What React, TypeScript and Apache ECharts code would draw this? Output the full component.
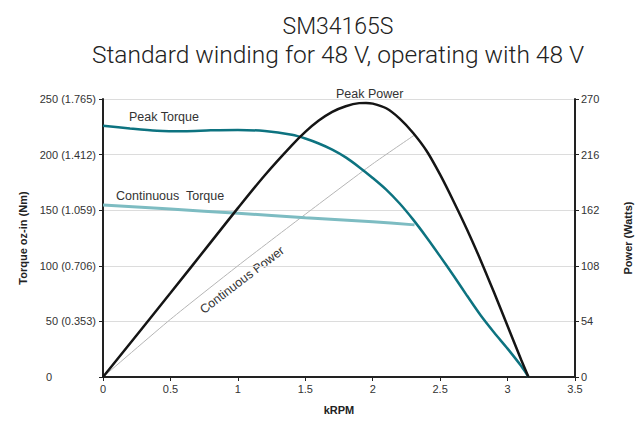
import React, { useEffect, useRef } from "react";
import * as echarts from "echarts";

const titleText = "SM34165S";
const subtitleText = "Standard winding for 48 V, operating with 48 V";

const xTicks = { min: 0, max: 3.5, interval: 0.5 };
const leftTickLabels = ["0", "50 (0.353)", "100 (0.706)", "150 (1.059)", "200 (1.412)", "250 (1.765)"];
const rightTicks = { min: 0, max: 270, interval: 54 };

// [kRPM, oz-in]
const peakTorque: [number, number][] = [
  [0, 226], [0.2, 223.5], [0.4, 221.5], [0.6, 221], [0.8, 221.8], [1.0, 222.2], [1.2, 221.2],
  [1.4, 217.8], [1.5, 214.5], [1.6, 210], [1.7, 204.5], [1.8, 197.5], [1.9, 188.7], [2.0, 179],
  [2.1, 168.5], [2.2, 156], [2.3, 141.5], [2.4, 125.5], [2.5, 108.5], [2.6, 91], [2.7, 73],
  [2.8, 55.5], [2.9, 40], [3.0, 25.5], [3.1, 10], [3.155, 0],
];
// [kRPM, oz-in]
const continuousTorque: [number, number][] = [
  [0, 154.7], [0.5, 151], [1.0, 147.2], [1.5, 143.3], [2.0, 139.6], [2.31, 136.8],
];
// [kRPM, W]
const peakPower: [number, number][] = [
  [0, 0], [0.5, 81.5], [0.8, 131], [1.0, 164], [1.2, 196], [1.4, 225], [1.5, 238], [1.6, 249],
  [1.7, 257.5], [1.8, 263], [1.9, 266], [1.95, 266.2], [2.0, 265.5], [2.1, 261], [2.2, 251],
  [2.3, 237], [2.4, 219.5], [2.5, 196.5], [2.6, 170.5], [2.7, 143], [2.8, 113.5], [2.9, 82],
  [3.0, 49.5], [3.1, 17], [3.155, 0],
];
// [kRPM, W]
const continuousPower: [number, number][] = [
  [0, 0], [0.5, 56], [1.0, 108], [1.5, 158], [2.0, 207], [2.31, 235],
];

const seriesNames = ["Peak Torque", "Continuous  Torque", "Peak Power", "Continuous Power"];

export default function App() {
  const ref = useRef<HTMLDivElement>(null);
  useEffect(() => {
    document.body.style.margin = "0";
    if (!ref.current) return;
    const chart = echarts.init(ref.current, undefined, { renderer: "svg" });
    const labelFont = { fontFamily: "Liberation Sans, Arial, sans-serif", fontSize: 11, color: "#333" };
    const nameFont = { fontFamily: "Liberation Sans, Arial, sans-serif", fontSize: 11, fontWeight: "bold" as const, color: "#222" };
    const seriesLabelStyle = { fontFamily: "Liberation Sans, Arial, sans-serif", fontSize: 12.5, fill: "#333" };
    chart.setOption({
      animation: false,
      backgroundColor: "#fff",
      title: {
        text: titleText,
        subtext: subtitleText,
        left: 333,
        textAlign: "center",
        top: 6,
        itemGap: 0,
        textStyle: { fontFamily: "Roboto", fontWeight: 300, fontSize: 23, color: "#222", lineHeight: 30 },
        subtextStyle: { fontFamily: "Roboto", fontWeight: 300, fontSize: 24.5, color: "#222", lineHeight: 27 },
      },
      grid: { left: 103, right: 58, top: 99, bottom: 46, containLabel: false },
      xAxis: {
        type: "value",
        min: xTicks.min,
        max: xTicks.max,
        interval: xTicks.interval,
        name: "kRPM",
        nameLocation: "middle",
        nameGap: 27,
        nameTextStyle: nameFont,
        axisLine: { show: true, lineStyle: { color: "#222", width: 2 } },
        axisTick: { show: true, length: 4, lineStyle: { color: "#222" } },
        axisLabel: { ...labelFont, margin: 6 },
        splitLine: { show: false },
      },
      yAxis: [
        {
          type: "value",
          min: 0,
          max: 250,
          interval: 50,
          name: "Torque oz-in (Nm)",
          nameLocation: "middle",
          nameRotate: 90,
          nameGap: 75,
          nameTextStyle: nameFont,
          axisLine: { show: true, lineStyle: { color: "#222", width: 2 } },
          axisTick: { show: true, length: 4, lineStyle: { color: "#222" } },
          axisLabel: {
            ...labelFont,
            margin: 7,
            formatter: (v: number) => {
              const i = Math.round(v / 50);
              return i === 0 ? "{zero|" + leftTickLabels[0] + "}" : leftTickLabels[i] ?? "";
            },
            rich: { zero: { ...labelFont, padding: [0, 44, 0, 0] } },
          },
          splitLine: { show: true, lineStyle: { color: "#dcdcdc", width: 1 } },
        },
        {
          type: "value",
          position: "right",
          min: rightTicks.min,
          max: rightTicks.max,
          interval: rightTicks.interval,
          name: "Power (Watts)",
          nameLocation: "middle",
          nameRotate: 90,
          nameGap: 47,
          nameTextStyle: nameFont,
          axisLine: { show: true, lineStyle: { color: "#222", width: 2 } },
          axisTick: { show: true, length: 4, lineStyle: { color: "#222" } },
          axisLabel: { ...labelFont, margin: 6 },
          splitLine: { show: false },
        },
      ],
      series: [
        {
          name: seriesNames[3],
          type: "line",
          yAxisIndex: 1,
          data: continuousPower,
          smooth: 0.2,
          showSymbol: false,
          lineStyle: { color: "#b5b5b5", width: 1 },
          z: 1,
        },
        {
          name: seriesNames[1],
          type: "line",
          yAxisIndex: 0,
          data: continuousTorque,
          smooth: 0.3,
          showSymbol: false,
          lineStyle: { color: "#7dbcc2", width: 3 },
          z: 2,
        },
        {
          name: seriesNames[0],
          type: "line",
          yAxisIndex: 0,
          data: peakTorque,
          smooth: 0.3,
          showSymbol: false,
          lineStyle: { color: "#0d7380", width: 2.5 },
          z: 3,
        },
        {
          name: seriesNames[2],
          type: "line",
          yAxisIndex: 1,
          data: peakPower,
          smooth: 0.3,
          showSymbol: false,
          lineStyle: { color: "#151515", width: 2.5 },
          z: 4,
        },
      ],
      graphic: [
        { type: "text", left: 129, top: 110, style: { text: seriesNames[0], ...seriesLabelStyle } },
        { type: "text", left: 116, top: 189, style: { text: seriesNames[1], ...seriesLabelStyle } },
        { type: "text", left: 336, top: 87, style: { text: seriesNames[2], ...seriesLabelStyle } },
        {
          type: "text",
          x: 242,
          y: 280,
          rotation: (37.4 * Math.PI) / 180,
          style: { text: seriesNames[3], ...seriesLabelStyle, align: "center", verticalAlign: "middle" },
        },
      ],
    });
    return () => chart.dispose();
  }, []);
  return <div ref={ref} style={{ width: 641, height: 423 }} />;
}
